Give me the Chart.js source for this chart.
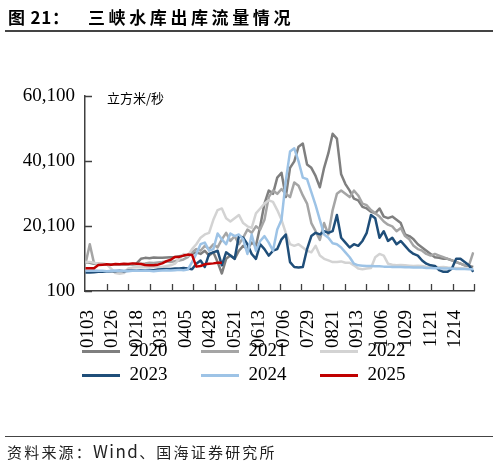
<!DOCTYPE html>
<html>
<head>
<meta charset="utf-8">
<script src="https://cdn.jsdelivr.net/npm/chart.js@4.4.1/dist/chart.umd.min.js"></script>
<style>
  body { margin: 0; background: #fff; }
  #wrap { position: relative; width: 498px; height: 465px; overflow: hidden; }
  #chart { position: absolute; left: 0; top: 0; }
  .title { position: absolute; top: 5px; font: bold 17px "Noto Sans CJK SC"; color: #000; line-height: 24px; }
  .rule { position: absolute; left: 5px; width: 488px; background: #444; }
  .source { position: absolute; left: 7px; top: 441px; font: 15px "Noto Sans CJK SC"; letter-spacing: 2.2px; color: #222; line-height: 20px; }
  .source span { font-size: 17px; letter-spacing: 1.4px; }
</style>
</head>
<body>
<div id="wrap">
  <canvas id="chart" width="498" height="465"></canvas>
  <div class="title" style="left:8px;letter-spacing:0.8px">图 21：</div>
  <div class="title" style="left:88px;letter-spacing:3.6px">三峡水库出库流量情况</div>
  <div class="rule" style="top:30px;height:1.5px"></div>
  <div class="rule" style="top:436px;height:1px"></div>
  <div class="source">资料来源：<span>Wind</span>、国海证券研究所</div>
</div>
<script>
// series + axis data
const years = ['2020', '2021', '2022', '2023', '2024', '2025'];
const lineColors = ['#7f7f7f', '#a5a5a5', '#d3d3d3', '#1f4e79', '#9dc3e6', '#c00000'];
const xTickLabels = ['0103', '0126', '0218', '0313', '0405', '0428', '0521', '0613',
  '0706', '0729', '0821', '0913', '1006', '1029', '1121', '1214'];
const yTicks = [100, 20100, 40100, 60100];
const unitLabel = '立方米/秒';
const sampleStep = 4; // one reading every 4 days, from 0101

const flow2020 = [9000, 8800, 8500, 8400, 8300, 8200, 8200, 8300, 8300, 8200, 8300, 8400, 8600,
  10000, 10300, 10200, 10400, 10300, 10300, 10400, 10500, 10600, 10800, 11000,
  11200, 11500, 12000, 11500, 12500, 11000, 12000,
  9000, 5500, 10000, 11000, 10000, 12500, 14000, 13000, 15000, 14000,
  20000, 27000, 31000, 30000, 35000, 36500, 29000, 38000, 40000, 44500,
  45500, 39000, 38000, 35500, 32000, 38000, 42500, 48500, 47000, 36000,
  33000, 31000, 28500, 28000, 26000, 25500, 24500, 24000, 25500, 23000,
  22500, 23000, 22000, 21000, 17500, 17000, 16000, 14500, 13500, 12500,
  11500, 10500, 10300, 10000, 10000, 9500, 9000, 8500, 8000, 7800, 7500];
const flow2021 = [8500, 14500, 8600, 8500, 8400, 8300, 8300, 8200, 8300, 8200, 8300, 8200, 8300,
  8500, 8600, 8800, 8700, 8900, 9000, 9200, 9000, 9300, 9500, 9800,
  10500, 12000, 13000, 12500, 14000, 13000, 14500,
  13500, 16000, 18000, 15500, 17000, 14500, 16500, 19000, 18000, 20000,
  19000, 22000, 29000, 31000, 30000, 31500, 30000, 29000, 33500, 32500,
  29500, 27000, 21000, 18500, 15800, 21000, 17500, 25000, 30000, 31000,
  30000, 29000, 31000, 29500, 27000, 26500, 25000, 24000, 23000, 21500,
  20500, 20000, 18500, 19500, 17000, 16000, 14000, 13000, 12500, 11500,
  11000, 11500, 11000, 10500, 10000, 9500, 9000, 8500, 8000, 8000, 12000];
const flow2022 = [9000, 9000, 8800, 8500, 8600, 8300, 7000, 5600, 5400, 5600, 7000, 7300, 7400,
  7500, 7400, 7600, 7500, 7600, 7500, 7800, 8000, 8500, 10000, 11500,
  11000, 13000, 14500, 16500, 17500, 18000, 22000,
  25000, 25500, 22500, 21500, 22500, 23500, 21000, 20000, 19500, 24000,
  25500, 27000, 28000, 27500, 25000, 22000, 18000, 14500, 14000, 14500,
  13500, 12500, 12000, 14000, 11000, 10000, 9500, 9000, 9000, 9200,
  8800, 8800, 8000, 7000, 6800, 7000, 7200, 10500, 11500, 11000,
  8500, 8200, 8000, 8100, 8000, 7900, 7800, 7900, 7800, 7600,
  7500, 7600, 7400, 7500, 7300, 7200, 7200, 7100, 7000, 7000, 6900];
const flow2023 = [5800, 5800, 5900, 6000, 6000, 6100, 6200, 6200, 6300, 6200, 6300, 6400, 6300,
  6500, 6500, 6600, 6500, 6700, 6800, 6900, 6900, 7000, 7000, 7200,
  7000, 6800, 8500, 9500, 7500, 11500, 12000,
  12500, 8000, 12000, 11000, 10000, 17000, 16500, 14500, 11500, 10000,
  14500, 13000, 11000, 12500, 13000, 16000, 17500, 9000, 7500, 7300,
  7500, 13000, 17000, 18000, 17500, 18500, 18000, 18500, 23500, 16500,
  15000, 13500, 14500, 14000, 15500, 18000, 23500, 22500, 16500, 18500,
  15500, 16500, 14500, 15500, 14000, 12500, 11500, 11000, 9500, 8500,
  8000, 7800, 6500, 6000, 6000, 7000, 10000, 10000, 9000, 8000, 6000];
const flow2024 = [6300, 6300, 6400, 6300, 6300, 6200, 6300, 6400, 6300, 6300, 6200, 6300, 6300,
  6300, 6400, 6300, 6200, 6300, 6400, 6500, 6400, 6500, 6600, 6500, 6700,
  9000, 11500, 14500, 15000, 12500, 13000,
  17800, 16000, 14500, 17800, 17000, 17500, 16000, 11500, 17500, 12500,
  15500, 17000, 15000, 12500, 19000, 22000, 34000, 43000, 44000, 40000,
  35000, 34500, 30500, 26500, 22000, 17500, 16500, 14800, 14500, 13500,
  12000, 10500, 8500, 8000, 7900, 7800, 7800, 7700, 7700, 7600,
  7600, 7500, 7500, 7500, 7400, 7400, 7300, 7300, 7300, 7200, 7200,
  7100, 7100, 7000, 7000, 7000, 6900, 6900, 6900, 6800, 6800];
const flow2025 = [7100, 7100, 7100, 8100, 8200, 8300, 8200, 8400, 8300, 8500,
  8400, 8600, 8500, 8400, 8100, 8000, 8000, 8200, 8600, 9300,
  9700, 10600, 10600, 11000, 11300, 11200, 7600, 7800, 8300, 8500,
  8600, 8800, 8800];

const allFlows = [flow2020, flow2021, flow2022, flow2023, flow2024, flow2025];

// MMDD -> day of year (non-leap)
const monthStart = [0, 31, 59, 90, 120, 151, 181, 212, 243, 273, 304, 334];
function dayOf(mmdd) {
  return monthStart[parseInt(mmdd.slice(0, 2), 10) - 1] + parseInt(mmdd.slice(2), 10) - 1;
}
const labelDays = xTickLabels.map(dayOf);

const datasets = years.map((yr, i) => ({
  label: yr,
  data: allFlows[i].map((v, k) => ({x: k * sampleStep, y: v})),
  borderColor: lineColors[i],
  backgroundColor: lineColors[i],
  borderWidth: 2.5,
  borderJoinStyle: 'round',
  pointRadius: 0,
  tension: 0,
  fill: false,
  order: years.length - 1 - i
}));

const serif = 'Liberation Serif';

// inward tick marks + unit text
const axisDecor = {
  id: 'axisDecor',
  afterDraw(chart) {
    const {ctx, chartArea: a, scales: {x, y}} = chart;
    ctx.save();
    ctx.strokeStyle = '#404040';
    ctx.lineWidth = 1.3;
    ctx.beginPath();
    y.ticks.forEach(t => {
      const py = Math.round(y.getPixelForValue(t.value)) + 0.5;
      ctx.moveTo(a.left, py);
      ctx.lineTo(a.left + 7, py);
    });
    const n = 18;
    for (let k = 1; k <= n; k++) {
      const px = Math.round(x.getPixelForValue(x.min + (x.max - x.min) * k / n)) + 0.5;
      ctx.moveTo(px, a.bottom);
      ctx.lineTo(px, a.bottom - 7);
    }
    ctx.stroke();
    ctx.fillStyle = '#000';
    ctx.font = '13px "Noto Sans CJK SC"';
    ctx.textBaseline = 'middle';
    ctx.fillText(unitLabel, a.left + 22, a.top + 2);
    ctx.restore();
  }
};

// legend sits a little left and overlaps the rotated labels, like the original
const legendShift = {
  id: 'legendShift',
  afterLayout(chart) {
    const lg = chart.legend;
    lg.left -= 8;
    lg.right -= 8;
    lg.top -= 16;
    lg.bottom -= 16;
  }
};

new Chart(document.getElementById('chart'), {
  type: 'line',
  data: {datasets: datasets},
  options: {
    responsive: false,
    animation: false,
    devicePixelRatio: 1,
    layout: {padding: {top: 96, left: 0, right: 22, bottom: 54}},
    scales: {
      x: {
        type: 'linear',
        min: -0.5,
        max: 365,
        afterFit: s => { s.height = 62; },
        afterBuildTicks: s => { s.ticks = labelDays.map(v => ({value: v})); },
        ticks: {
          autoSkip: false,
          maxRotation: 90,
          minRotation: 90,
          padding: 19,
          color: '#000',
          font: {family: serif, size: 19},
          callback: (v, i) => xTickLabels[i]
        },
        grid: {drawOnChartArea: false, drawTicks: false},
        border: {display: true, color: '#404040', width: 1.5}
      },
      y: {
        min: 100,
        max: 60100,
        afterFit: s => { s.width = 85; },
        afterBuildTicks: s => { s.ticks = yTicks.map(v => ({value: v})); },
        ticks: {
          padding: 10,
          color: '#000',
          font: {family: serif, size: 19},
          callback: v => v.toLocaleString('en-US')
        },
        grid: {drawOnChartArea: false, drawTicks: false},
        border: {display: true, color: '#404040', width: 1.5}
      }
    },
    plugins: {
      tooltip: {enabled: false},
      legend: {
        position: 'bottom',
        align: 'start',
        fullSize: false,
        labels: {
          boxWidth: 38,
          boxHeight: 3,
          padding: 5,
          color: '#000',
          font: {family: serif, size: 19},
          generateLabels: chart => chart.data.datasets.map((ds, i) => ({
            text: ds.label + '\u2002\u2002\u2002',
            fillStyle: ds.borderColor,
            strokeStyle: ds.borderColor,
            lineWidth: 0,
            hidden: false,
            datasetIndex: i
          }))
        }
      }
    }
  },
  plugins: [axisDecor, legendShift]
});
</script>
</body>
</html>
